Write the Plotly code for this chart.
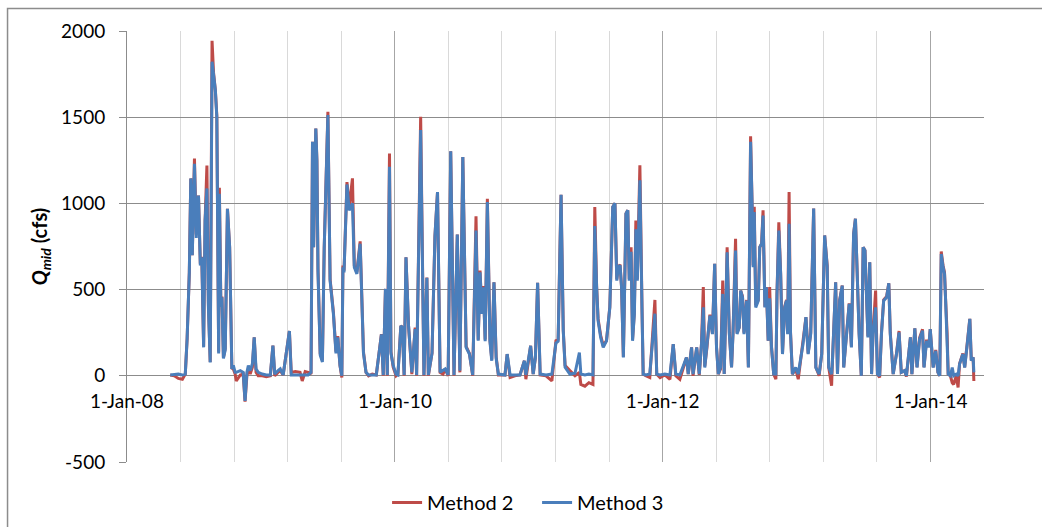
import pandas as pd
import plotly.graph_objects as go

# Record dates as Excel serial day numbers (days since 1899-12-30)
record_serial = [
    39566, 39577, 39588, 39599, 39607, 39612, 39618, 39622, 39626, 39632,
    39637, 39643, 39648, 39652, 39657, 39661, 39666, 39670, 39675, 39680,
    39684, 39689, 39693, 39698, 39700, 39704, 39707, 39711, 39716, 39722,
    39728, 39734, 39738, 39743, 39746, 39757, 39765, 39770, 39775, 39779,
    39784, 39790, 39795, 39800, 39806, 39817, 39828, 39839, 39846, 39851,
    39860, 39866, 39874, 39891, 39896, 39907, 39920, 39926, 39934, 39942,
    39950, 39954, 39957, 39963, 39966, 39969, 39975, 39981, 39986, 39996,
    40002, 40011, 40018, 40023, 40029, 40034, 40037, 40040, 40048, 40054,
    40063, 40068, 40075, 40084, 40093, 40100, 40107, 40117, 40128, 40142,
    40147, 40153, 40158, 40164, 40168, 40174, 40182, 40187, 40195, 40199,
    40204, 40209, 40216, 40225, 40234, 40238, 40249, 40258, 40266, 40270,
    40280, 40288, 40295, 40302, 40310, 40316, 40324, 40331, 40340, 40349,
    40356, 40364, 40373, 40382, 40391, 40400, 40406, 40411, 40416, 40420,
    40425, 40431, 40438, 40443, 40449, 40455, 40461, 40479, 40485, 40493,
    40506, 40520, 40532, 40536, 40549, 40556, 40562, 40568, 40575, 40591,
    40607, 40618, 40624, 40632, 40638, 40643, 40656, 40670, 40682, 40686,
    40697, 40708, 40719, 40724, 40729, 40733, 40740, 40747, 40756, 40765,
    40773, 40779, 40784, 40788, 40793, 40797, 40802, 40809, 40814, 40818,
    40823, 40827, 40832, 40836, 40840, 40847, 40853, 40856, 40863, 40874,
    40888, 40893, 40902, 40915, 40929, 40938, 40945, 40956, 40974, 40979,
    40988, 40992, 41002, 41009, 41015, 41020, 41024, 41030, 41038, 41045,
    41051, 41056, 41061, 41067, 41073, 41077, 41082, 41085, 41091, 41097,
    41101, 41108, 41112, 41118, 41122, 41127, 41131, 41138, 41143, 41149,
    41153, 41156, 41159, 41163, 41170, 41174, 41179, 41183, 41188, 41192,
    41197, 41201, 41206, 41212, 41218, 41221, 41226, 41231, 41236, 41242,
    41247, 41250, 41254, 41258, 41263, 41272, 41279, 41288, 41292, 41300,
    41306, 41313, 41321, 41327, 41336, 41343, 41351, 41358, 41362, 41370,
    41372, 41381, 41386, 41392, 41399, 41403, 41411, 41418, 41424, 41430,
    41435, 41439, 41445, 41451, 41456, 41461, 41465, 41469, 41474, 41479,
    41483, 41490, 41495, 41501, 41506, 41512, 41520, 41526, 41530, 41538,
    41547, 41554, 41560, 41569, 41574, 41585, 41589, 41597, 41603, 41610,
    41618, 41622, 41629, 41635, 41639, 41647, 41654, 41660, 41665, 41669,
    41674, 41678, 41681, 41685, 41688, 41694, 41699, 41703, 41710, 41715,
    41719, 41728, 41733, 41740, 41747, 41751, 41756, 41758,
]

# Mid-section discharge, Method 2 (cfs)
method2_cfs = [
    5, 0, -15, -20, 10, 215, 600, 1145, 700, 1260,
    820, 1046, 650, 690, 170, 900, 1220, 420, 80, 1943,
    1760, 1657, 1510, 140, 1090, 420, 460, 106, 160, 969,
    746, 45, 40, 10, -30, 5, 10, -150, 0, 40,
    10, 50, 223, 20, 0, 0, -5, 0, 175, 0,
    20, 30, 5, 260, 20, 25, 20, -30, 25, 20,
    10, 1357, 746, 1434, 1250, 620, 130, 90, 746, 1531,
    560, 370, 140, 230, 60, -10, 640, 610, 1124, 979,
    1145, 640, 600, 780, 140, 20, 0, 10, 5, 242,
    0, 504, 0, 1289, 140, 50, 0, 10, 290, 280,
    0, 688, 290, 10, 280, 0, 1502, 0, 570, 0,
    131, 810, 1066, 20, 10, 40, 0, 1302, 0, 820,
    20, 1269, 170, 130, 0, 926, 210, 610, 370, 520,
    210, 1027, 210, 95, 543, 110, 5, 5, 126, -10,
    0, 5, 87, -20, 174, 10, 106, 539, 5, 0,
    -30, 203, 210, 1050, 265, 60, 30, 0, 20, -50,
    -60, -40, -50, 979, 520, 330, 235, 175, 205, 400,
    980, 1000, 560, 630, 645, 514, 110, 940, 960, 560,
    746, 210, 370, 901, 560, 1221, 370, 10, 0, -10,
    440, 10, -10, 5, -20, 184, 0, -20, 106, 10,
    165, 0, 165, 5, 184, 515, 55, 165, 355, 245,
    650, 170, 10, 40, 552, 10, 440, 746, 250, 50,
    250, 795, 250, 281, 494, 460, 250, 440, 50, 1390,
    1000, 640, 980, 410, 440, 746, 766, 960, 400, 515,
    203, 515, 170, 10, -20, 475, 890, 591, 130, 400,
    440, 250, 1066, 250, 10, 40, -20, 150, 190, 340,
    130, 250, 970, 50, 0, 130, 814, 640, 50, -58,
    70, 543, 10, 440, 523, 50, 250, 420, 170, 824,
    911, 630, 250, 0, 746, 727, 440, 230, 659, 10,
    250, 494, 10, -10, 250, 440, 460, 537, 250, 10,
    130, 260, 20, 30, -5, 223, 10, 275, 50, 220,
    270, 50, 210, 170, 271, 50, 150, 20, 0, 721,
    640, 600, 440, 250, 10, 0, -40, -50, 0, -68,
    70, 130, 50, 190, 330, 90, 107, -30,
]

# Mid-section discharge, Method 3 (cfs)
method3_cfs = [
    5, 8, 10, 5, 10, 215, 600, 1145, 700, 1230,
    800, 1046, 640, 688, 165, 900, 1087, 400, 77, 1822,
    1750, 1657, 1500, 130, 1056, 400, 455, 100, 150, 969,
    746, 40, 60, 20, 20, 30, 20, -145, 20, 60,
    30, 70, 223, 40, 20, 10, 5, 5, 175, 10,
    30, 40, 5, 260, 5, 5, 5, 5, 5, 5,
    20, 1357, 746, 1434, 1250, 600, 120, 80, 746, 1512,
    552, 359, 130, 223, 60, 0, 630, 600, 1110, 960,
    1000, 630, 591, 766, 131, 20, 5, 5, 5, 240,
    5, 504, 5, 1212, 130, 60, 10, 5, 290, 280,
    5, 688, 290, 20, 271, 5, 1425, 5, 569, 5,
    131, 810, 1066, 20, 30, 40, 5, 1302, 5, 820,
    30, 1269, 165, 126, 5, 843, 203, 600, 359, 514,
    200, 1008, 200, 87, 543, 100, 10, 5, 126, 5,
    5, 5, 87, 5, 174, 10, 106, 539, 10, 5,
    10, 190, 200, 1050, 261, 50, 10, 15, 135, 10,
    5, 10, 5, 869, 514, 320, 223, 165, 203, 397,
    980, 1000, 552, 630, 640, 514, 106, 940, 960, 552,
    720, 203, 359, 850, 552, 1134, 360, 10, 5, 10,
    360, 10, 5, 10, 5, 184, 10, 5, 106, 10,
    165, 10, 165, 10, 184, 397, 48, 165, 349, 242,
    650, 165, 10, 50, 475, 10, 436, 717, 242, 48,
    242, 727, 242, 281, 494, 455, 242, 436, 48, 1357,
    1000, 630, 950, 397, 436, 746, 766, 930, 397, 514,
    203, 450, 165, 10, 10, 475, 843, 591, 126, 397,
    436, 242, 882, 242, 10, 48, 10, 145, 184, 340,
    126, 242, 970, 48, 10, 126, 814, 630, 48, 10,
    68, 543, 10, 436, 523, 48, 242, 417, 165, 824,
    911, 630, 242, 0, 746, 727, 436, 223, 659, 10,
    242, 397, 10, 0, 242, 436, 455, 537, 242, 10,
    126, 252, 20, 30, 0, 223, 10, 275, 48, 213,
    262, 48, 203, 165, 271, 48, 145, 20, 0, 707,
    630, 591, 436, 242, 10, 0, 48, 0, 10, 0,
    68, 126, 48, 184, 330, 87, 107, 20,
]

# Axis labels: a label every two years, light gridlines every 146.1 days
label_dates = ["2008-01-01", "2010-01-01", "2012-01-01", "2014-01-01"]
label_text = ["1-Jan-08", "1-Jan-10", "1-Jan-12", "1-Jan-14"]
y_ticks = [-500, 0, 500, 1000, 1500, 2000]
y_tick_text = ["-500", "0", "500", "1000", "1500", "2000"]

dates = pd.to_datetime(pd.Series(record_serial), unit="D", origin="1899-12-30")

RED = "#BE4B48"
BLUE = "#4A7EBB"
GRID = "#8C8C8C"

fig = go.Figure()
fig.add_trace(go.Scatter(x=dates, y=method2_cfs, mode="lines", name="Method 2",
                         line=dict(color=RED, width=3)))
fig.add_trace(go.Scatter(x=dates, y=method3_cfs, mode="lines", name="Method 3",
                         line=dict(color=BLUE, width=3)))

MINOR_MS = 146.1 * 86400000

fig.update_layout(
    width=1042, height=527,
    margin=dict(l=127, r=58, t=31, b=65, autoexpand=False),
    paper_bgcolor="white", plot_bgcolor="white",
    font=dict(family="Lato", size=19, color="black"),
    legend=dict(orientation="h", x=0.4785, xanchor="center",
                y=-0.094, yanchor="middle", font=dict(size=20),
                entrywidth=105, entrywidthmode="pixels",
                bgcolor="rgba(0,0,0,0)"),
    xaxis=dict(
        type="date",
        range=["2008-01-01", "2014-05-26 16:00"],
        tickmode="array", tickvals=label_dates, ticktext=label_text,
        showgrid=True, gridcolor="#A6A6A6", gridwidth=1,
        minor=dict(tick0="2008-01-01", dtick=MINOR_MS, showgrid=True,
                   gridcolor="#D9D9D9", gridwidth=1),
        anchor="free", position=0.2,
        ticks="", showline=False, zeroline=False,
        ticklabelstandoff=12,
        tickfont=dict(size=19),
    ),
    yaxis=dict(
        range=[-500, 2000], tickmode="array", tickvals=y_ticks,
        ticktext=y_tick_text,
        showgrid=True, gridcolor=GRID, gridwidth=1, zeroline=False,
        showline=True, linecolor=GRID, linewidth=1,
        ticks="outside", ticklen=7, tickcolor=GRID,
        ticklabelstandoff=10,
        tickfont=dict(size=19),
        title=dict(text="<b><i>Q</i><sub><i>mid</i></sub> (cfs)</b>",
                   font=dict(size=20), standoff=8),
    ),
)

# Chart-area frame
fig.add_shape(type="rect", xref="paper", yref="paper",
              x0=-0.1394, x1=1.2, y0=-0.3, y1=1.0522,
              line=dict(color="#8C8C8C", width=1.5), layer="above")

fig.write_html("out.html")
